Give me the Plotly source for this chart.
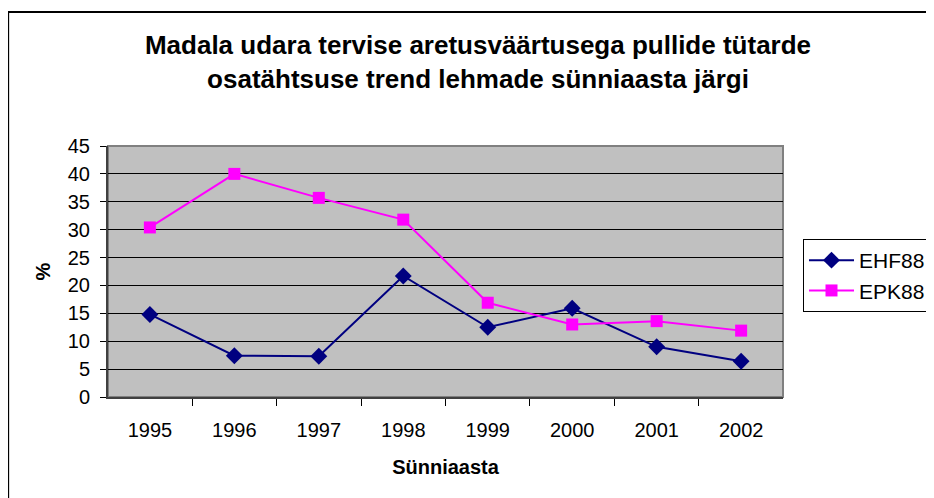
import plotly.graph_objects as go

# Andmed (loetud jooniselt)
years = ["1995", "1996", "1997", "1998", "1999", "2000", "2001", "2002"]
ehf88 = [14.8, 7.4, 7.3, 21.7, 12.5, 15.9, 9.0, 6.4]
epk88 = [30.4, 40.0, 35.7, 31.8, 16.9, 13.0, 13.6, 11.9]
y_ticks = [0, 5, 10, 15, 20, 25, 30, 35, 40, 45]

FONT = "Arial, Liberation Sans, sans-serif"
W, H = 934, 498
# lehe 8px ääris on arvesse võetud: joonise ala 108..784 x 146..397 ekraanil
L, R, T, B = 100, 158, 138, 109

fig = go.Figure()

fig.add_trace(
    go.Scatter(
        x=years,
        y=ehf88,
        mode="lines+markers",
        name="EHF88",
        line={"color": "#000080", "width": 2},
        marker={"symbol": "diamond", "size": 13, "color": "#000080"},
    )
)
fig.add_trace(
    go.Scatter(
        x=years,
        y=epk88,
        mode="lines+markers",
        name="EPK88",
        line={"color": "#FF00FF", "width": 2},
        marker={"symbol": "square", "size": 12, "color": "#FF00FF"},
    )
)

pw = W - L - R
ph = H - T - B

# välimine raam (ulatub pildist välja paremal ja all)
fig.add_shape(
    type="rect",
    xref="paper", yref="paper",
    x0=(0 - L) / pw, x1=(960 - L) / pw,
    y0=(H - B - 520) / ph, y1=(H - B - 4) / ph,
    line={"color": "black", "width": 2},
    fillcolor="rgba(0,0,0,0)",
    layer="above",
)
# joonise ala raam
fig.add_shape(
    type="rect",
    xref="paper", yref="paper",
    x0=0, x1=1, y0=0, y1=1,
    line={"color": "#808080", "width": 2},
    layer="below",
)

fig.update_layout(
    width=W,
    height=H,
    margin={"l": L, "r": R, "t": T, "b": B, "pad": 0},
    paper_bgcolor="white",
    plot_bgcolor="#C0C0C0",
    font={"family": FONT, "size": 20, "color": "black"},
    title={
        "text": "<b>Madala udara tervise aretusväärtusega pullide tütarde<br>"
                "osatähtsuse trend lehmade sünniaasta järgi</b>",
        "x": (478 - 8) / W,
        "xanchor": "center",
        "y": 1 - 46 / H,
        "yanchor": "middle",
        "font": {"family": FONT, "size": 26, "color": "black"},
    },
    showlegend=True,
    legend={
        "x": (795 - L) / pw,
        "xanchor": "left",
        "y": (H - B - 231) / ph,
        "yanchor": "top",
        "bordercolor": "black",
        "borderwidth": 1,
        "bgcolor": "white",
        "font": {"family": FONT, "size": 21, "color": "black"},
        "tracegroupgap": 0,
        "itemwidth": 45,
    },
    xaxis={
        "type": "category",
        "tickson": "boundaries",
        "ticks": "outside",
        "ticklen": 7,
        "tickcolor": "black",
        "ticklabelstandoff": 14,
        "showgrid": False,
        "showline": True,
        "linecolor": "#404040",
        "linewidth": 2,
        "tickfont": {"family": FONT, "size": 20},
        "title": {
            "text": "<b>Sünniaasta</b>",
            "font": {"family": FONT, "size": 20},
            "standoff": 20,
        },
    },
    yaxis={
        "range": [0, 45],
        "tickvals": y_ticks,
        "ticks": "outside",
        "ticklen": 6,
        "tickcolor": "black",
        "ticklabelstandoff": 6,
        "showgrid": True,
        "gridcolor": "black",
        "gridwidth": 1,
        "showline": True,
        "linecolor": "#404040",
        "linewidth": 2,
        "zeroline": False,
        "tickfont": {"family": FONT, "size": 20},
        "title": {
            "text": "<b>%</b>",
            "font": {"family": FONT, "size": 20},
            "standoff": 12,
        },
    },
)

fig.write_html("out.html")
